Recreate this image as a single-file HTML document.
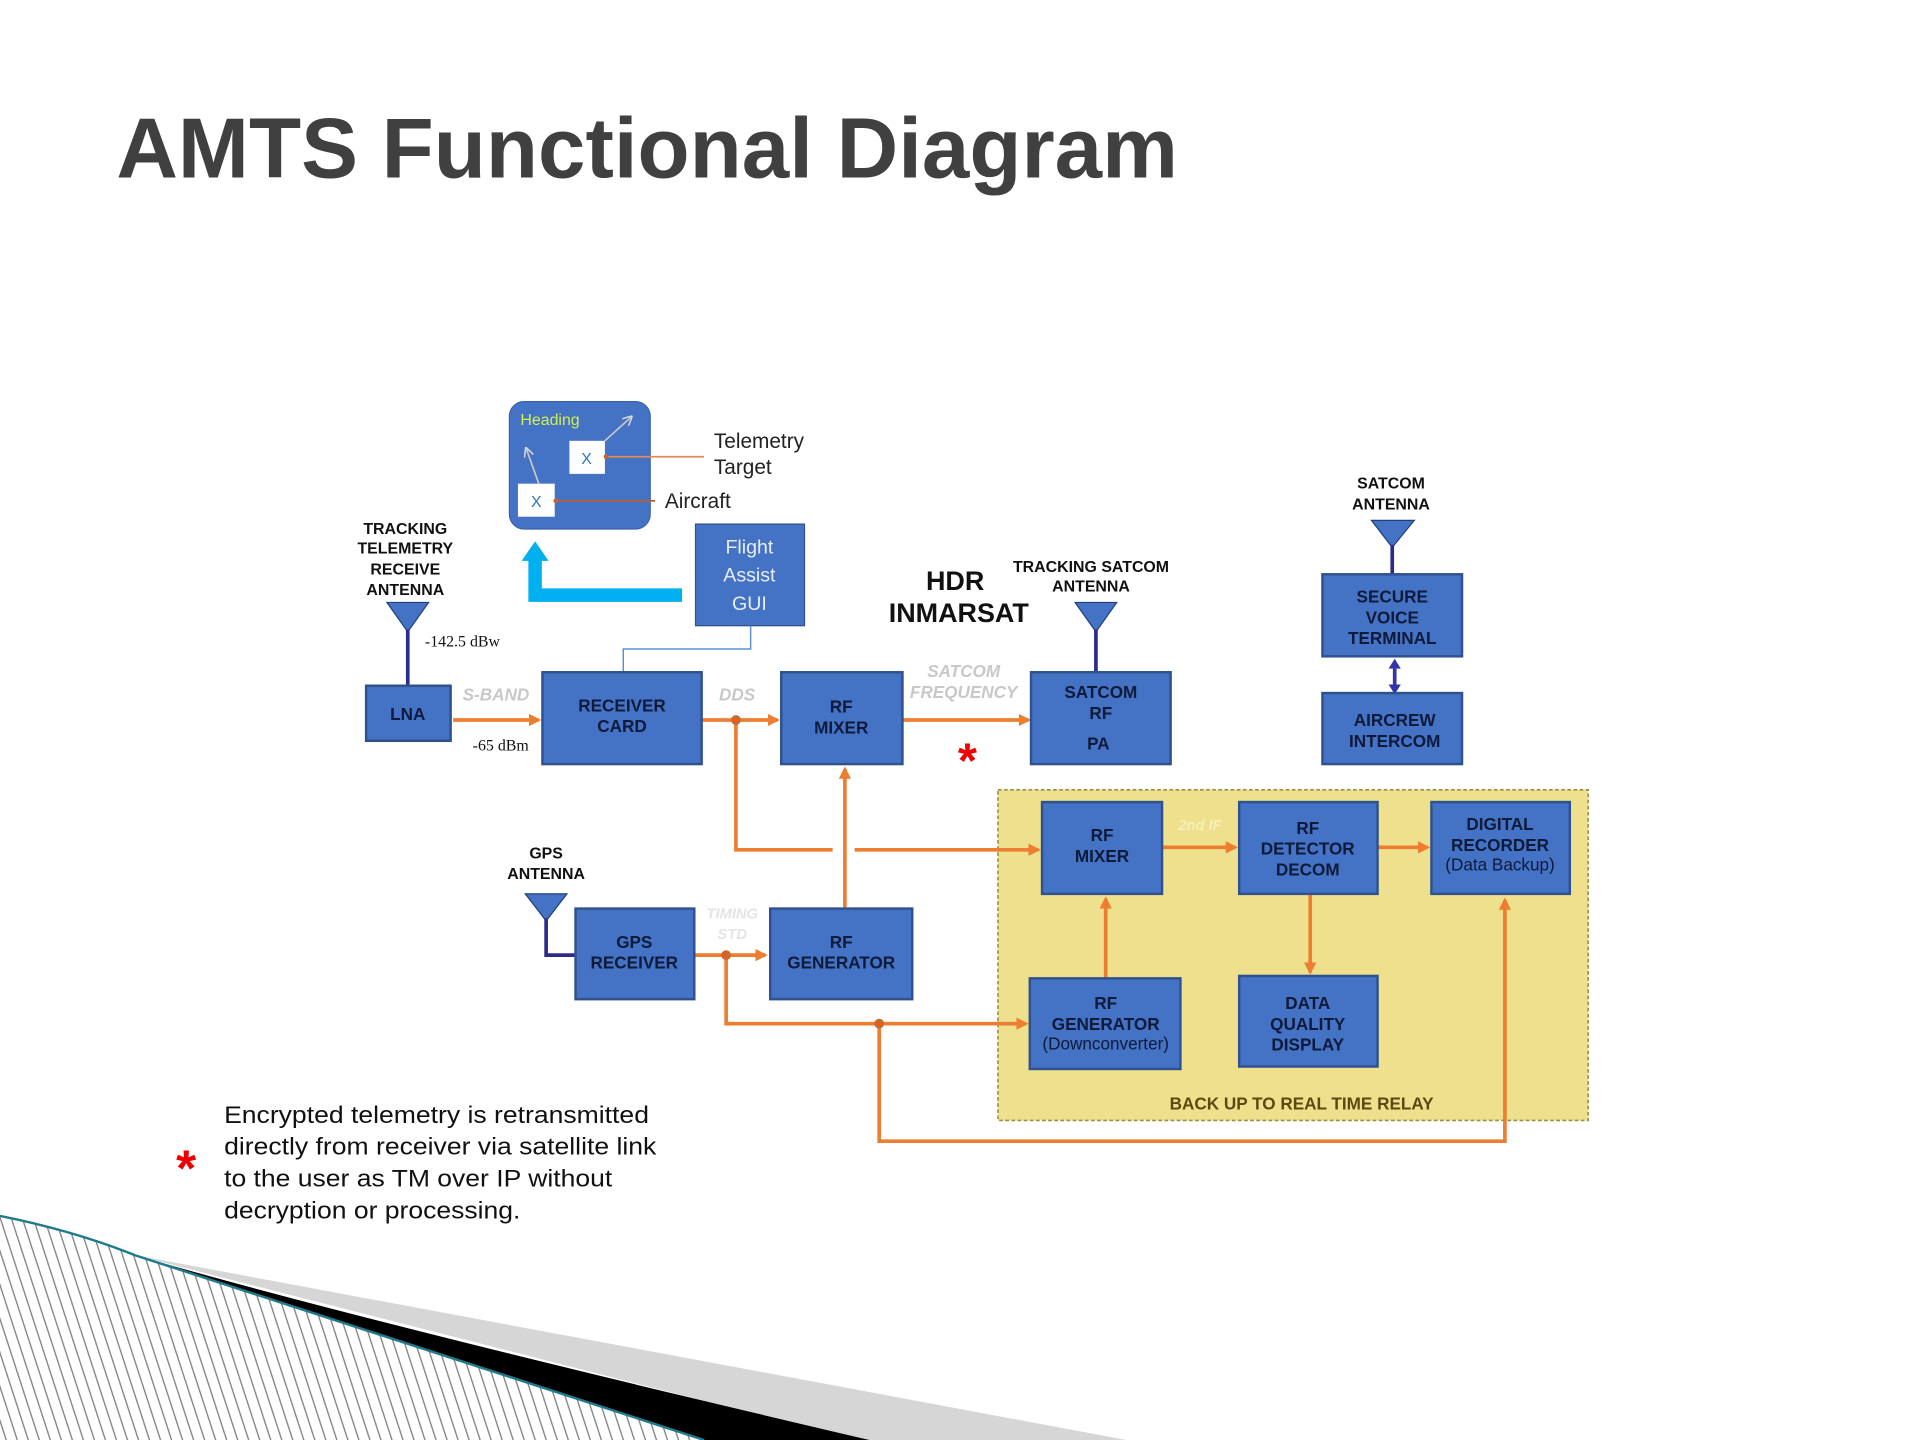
<!DOCTYPE html>
<html><head><meta charset="utf-8"><style>html,body{margin:0;padding:0;background:#fff}svg{display:block}</style></head>
<body>
<svg width="1920" height="1440" viewBox="0 0 1568 1176" xmlns="http://www.w3.org/2000/svg" font-family="'Liberation Sans', sans-serif">
<defs>
<pattern id="hatch" width="9" height="40" patternUnits="userSpaceOnUse" patternTransform="skewX(18)">
<rect width="9" height="40" fill="#fff"/><line x1="1" y1="0" x2="1" y2="40" stroke="#888" stroke-width="1.2"/></pattern>
<marker id="ah" markerWidth="10" markerHeight="10" refX="8" refY="5" orient="auto" markerUnits="userSpaceOnUse"><path d="M0,0 L10,5 L0,10 Z" fill="#ed7d31"/></marker>
<marker id="ahg" markerWidth="8" markerHeight="8" refX="6" refY="4" orient="auto" markerUnits="userSpaceOnUse"><path d="M0,0 L8,4 L0,8" fill="none" stroke="#ddd" stroke-width="1.2"/></marker>
</defs>
<text x="95" y="145" font-size="70" font-weight="bold" fill="#404040" textLength="867" lengthAdjust="spacingAndGlyphs">AMTS Functional Diagram</text>

<path d="M0,993 Q60,1005 110,1025 L575,1176 L0,1176 Z" fill="url(#hatch)"/>
<path d="M110,1025 L920,1176 L700,1176 Z" fill="#d6d6d6"/>
<path d="M110,1025 Q300,1080 710,1176 L575,1176 Z" fill="#000"/>
<path d="M0,993 Q60,1005 110,1025 L575,1176" fill="none" stroke="#1f7a8c" stroke-width="2"/>

<rect x="416" y="328" width="115" height="104" rx="12" fill="#4472c4" stroke="#3a63ad"/>
<text x="425" y="347" font-size="13" fill="#d4f04a">Heading</text>
<rect x="465" y="360" width="29" height="27" fill="#fff"/><text x="479" y="379" font-size="13" fill="#2e75b6" text-anchor="middle">X</text>
<rect x="423" y="395" width="30" height="27" fill="#fff"/><text x="438" y="414" font-size="13" fill="#2e75b6" text-anchor="middle">X</text>
<line x1="494" y1="360" x2="515" y2="341" stroke="#ccc" stroke-width="1.3" marker-end="url(#ahg)"/>
<line x1="440" y1="395" x2="430" y2="367" stroke="#ccc" stroke-width="1.3" marker-end="url(#ahg)"/>
<line x1="575" y1="373" x2="494" y2="373" stroke="#e08a5a" stroke-width="1.5"/><circle cx="495" cy="373" r="2" fill="#c0603a"/>
<line x1="535" y1="409" x2="453" y2="409" stroke="#b5603a" stroke-width="1.5"/><circle cx="454" cy="409" r="2" fill="#c0603a"/>
<text x="583" y="366" font-size="17" fill="#222">Telemetry</text>
<text x="583" y="387" font-size="17" fill="#222">Target</text>
<text x="543" y="415" font-size="17" fill="#222">Aircraft</text>

<rect x="568" y="428" width="89" height="83" fill="#4472c4" stroke="#2f528f"/>
<text x="612" y="452" font-size="16" fill="#e8eef8" text-anchor="middle">Flight</text>
<text x="612" y="475" font-size="16" fill="#e8eef8" text-anchor="middle">Assist</text>
<text x="612" y="498" font-size="16" fill="#e8eef8" text-anchor="middle">GUI</text>
<path d="M557,486 L437,486 L437,456" fill="none" stroke="#00b0f0" stroke-width="11"/>
<path d="M426,458 L437,442 L448,458 Z" fill="#00b0f0"/>
<path d="M613,511 L613,530 L509,530 L509,549" fill="none" stroke="#5b8fd0" stroke-width="1.2"/>

<g font-weight="bold" font-size="13" fill="#111" text-anchor="middle">
<text x="331" y="436">TRACKING</text><text x="331" y="452">TELEMETRY</text><text x="331" y="469">RECEIVE</text><text x="331" y="486">ANTENNA</text>
<text x="891" y="467">TRACKING  SATCOM</text><text x="891" y="483">ANTENNA</text>
<text x="1136" y="399">SATCOM</text><text x="1136" y="416">ANTENNA</text>
<text x="446" y="701">GPS</text><text x="446" y="718">ANTENNA</text>
</g>
<text x="780" y="482" font-size="22" font-weight="bold" fill="#111" text-anchor="middle">HDR</text>
<text x="783" y="508" font-size="22" font-weight="bold" fill="#111" text-anchor="middle">INMARSAT</text>

<g fill="#4472c4" stroke="#223f7a" stroke-width="1">
<path d="M316,492 L350,492 L333,516 Z"/>
<path d="M878,492 L912,492 L895,516 Z"/>
<path d="M1120,425 L1155,425 L1137,447 Z"/>
<path d="M429,730 L463,730 L446,752 Z"/>
</g>
<g stroke="#2b2b8a" stroke-width="3" fill="none">
<line x1="333" y1="514" x2="333" y2="560"/>
<line x1="895" y1="514" x2="895" y2="549"/>
<line x1="1137" y1="445" x2="1137" y2="469"/>
<path d="M446,750 L446,780 L470,780"/>
</g>
<line x1="1139" y1="546" x2="1139" y2="560" stroke="#3333aa" stroke-width="3"/>
<path d="M1134,546 L1139,538 L1144,546 Z M1134,559 L1139,567 L1144,559 Z" fill="#3333aa"/>

<text x="347" y="528" font-size="13" font-family="'Liberation Serif',serif" fill="#111">-142.5  dBw</text>
<text x="386" y="613" font-size="13" font-family="'Liberation Serif',serif" fill="#111">-65  dBm</text>

<rect x="815" y="645" width="482" height="270" fill="#eee08c" stroke="#9a8f40" stroke-width="1.3" stroke-dasharray="3,2"/>
<text x="1063" y="906" font-size="14" font-weight="bold" fill="#5a4a10" text-anchor="middle">BACK UP TO REAL TIME RELAY</text>

<g font-size="14" font-style="italic" fill="#c8c8c8" text-anchor="middle" font-weight="bold">
<text x="405" y="572">S-BAND</text>
<text x="602" y="572">DDS</text>
<text x="787" y="553">SATCOM</text><text x="787" y="570">FREQUENCY</text>
<text x="598" y="750" font-size="12" fill="#e4e4e4">TIMING</text><text x="598" y="767" font-size="12" fill="#e4e4e4">STD</text>
<text x="980" y="678" font-size="12" fill="#f6efb6">2nd IF</text>
</g>

<g stroke="#ed7d31" stroke-width="3" fill="none">
<line x1="370" y1="588" x2="440" y2="588" marker-end="url(#ah)"/>
<line x1="573" y1="588" x2="635" y2="588" marker-end="url(#ah)"/>
<line x1="737" y1="588" x2="840" y2="588" marker-end="url(#ah)"/>
<path d="M601,588 L601,694 L680,694"/>
<line x1="698" y1="694" x2="848" y2="694" marker-end="url(#ah)"/>
<line x1="690" y1="741" x2="690" y2="628" marker-end="url(#ah)"/>
<line x1="949" y1="692" x2="1009" y2="692" marker-end="url(#ah)"/>
<line x1="1125" y1="692" x2="1166" y2="692" marker-end="url(#ah)"/>
<line x1="903" y1="799" x2="903" y2="734" marker-end="url(#ah)"/>
<line x1="1070" y1="730" x2="1070" y2="794" marker-end="url(#ah)"/>
<line x1="567" y1="780" x2="625" y2="780" marker-end="url(#ah)"/>
<path d="M593,780 L593,836 L838,836" marker-end="url(#ah)"/>
<path d="M718,836 L718,932 L1229,932 L1229,735" marker-end="url(#ah)"/>
</g>
<g fill="#d0662a"><circle cx="601" cy="588" r="4"/><circle cx="593" cy="780" r="4"/><circle cx="718" cy="836" r="4"/></g>

<g fill="#4472c4" stroke="#2f528f" stroke-width="2">
<rect x="299" y="560" width="69" height="45"/>
<rect x="443" y="549" width="130" height="75"/>
<rect x="638" y="549" width="99" height="75"/>
<rect x="842" y="549" width="114" height="75"/>
<rect x="1080" y="469" width="114" height="67"/>
<rect x="1080" y="566" width="114" height="58"/>
<rect x="851" y="655" width="98" height="75"/>
<rect x="1012" y="655" width="113" height="75"/>
<rect x="1169" y="655" width="113" height="75"/>
<rect x="841" y="799" width="123" height="74"/>
<rect x="1012" y="797" width="113" height="74"/>
<rect x="470" y="742" width="97" height="74"/>
<rect x="629" y="742" width="116" height="74"/>
</g>
<g font-size="14" font-weight="bold" fill="#0e1a3a" text-anchor="middle">
<text x="333" y="588">LNA</text>
<text x="508" y="581">RECEIVER</text><text x="508" y="598">CARD</text>
<text x="687" y="582">RF</text><text x="687" y="599">MIXER</text>
<text x="899" y="570">SATCOM</text><text x="899" y="587">RF</text><text x="897" y="612">PA</text>
<text x="1137" y="492">SECURE</text><text x="1137" y="509">VOICE</text><text x="1137" y="526">TERMINAL</text>
<text x="1139" y="593">AIRCREW</text><text x="1139" y="610">INTERCOM</text>
<text x="900" y="687">RF</text><text x="900" y="704">MIXER</text>
<text x="1068" y="681">RF</text><text x="1068" y="698">DETECTOR</text><text x="1068" y="715">DECOM</text>
<text x="1225" y="678">DIGITAL</text><text x="1225" y="695">RECORDER</text><text x="1225" y="711" font-weight="normal">(Data Backup)</text>
<text x="903" y="824">RF</text><text x="903" y="841">GENERATOR</text><text x="903" y="857" font-weight="normal">(Downconverter)</text>
<text x="1068" y="824">DATA</text><text x="1068" y="841">QUALITY</text><text x="1068" y="858">DISPLAY</text>
<text x="518" y="774">GPS</text><text x="518" y="791">RECEIVER</text>
<text x="687" y="774">RF</text><text x="687" y="791">GENERATOR</text>
</g>

<text x="790" y="635" font-size="40" fill="#e00" text-anchor="middle" font-weight="bold">*</text>
<text x="152" y="968" font-size="42" fill="#e00" text-anchor="middle" font-weight="bold">*</text>
<g font-size="20" fill="#111">
<text x="183" y="917" textLength="347" lengthAdjust="spacingAndGlyphs">Encrypted telemetry is retransmitted</text>
<text x="183" y="943" textLength="353" lengthAdjust="spacingAndGlyphs">directly from receiver via satellite link</text>
<text x="183" y="969" textLength="317" lengthAdjust="spacingAndGlyphs">to the user as TM over IP without</text>
<text x="183" y="995" textLength="242" lengthAdjust="spacingAndGlyphs">decryption or processing.</text>
</g>
</svg>
</body></html>
